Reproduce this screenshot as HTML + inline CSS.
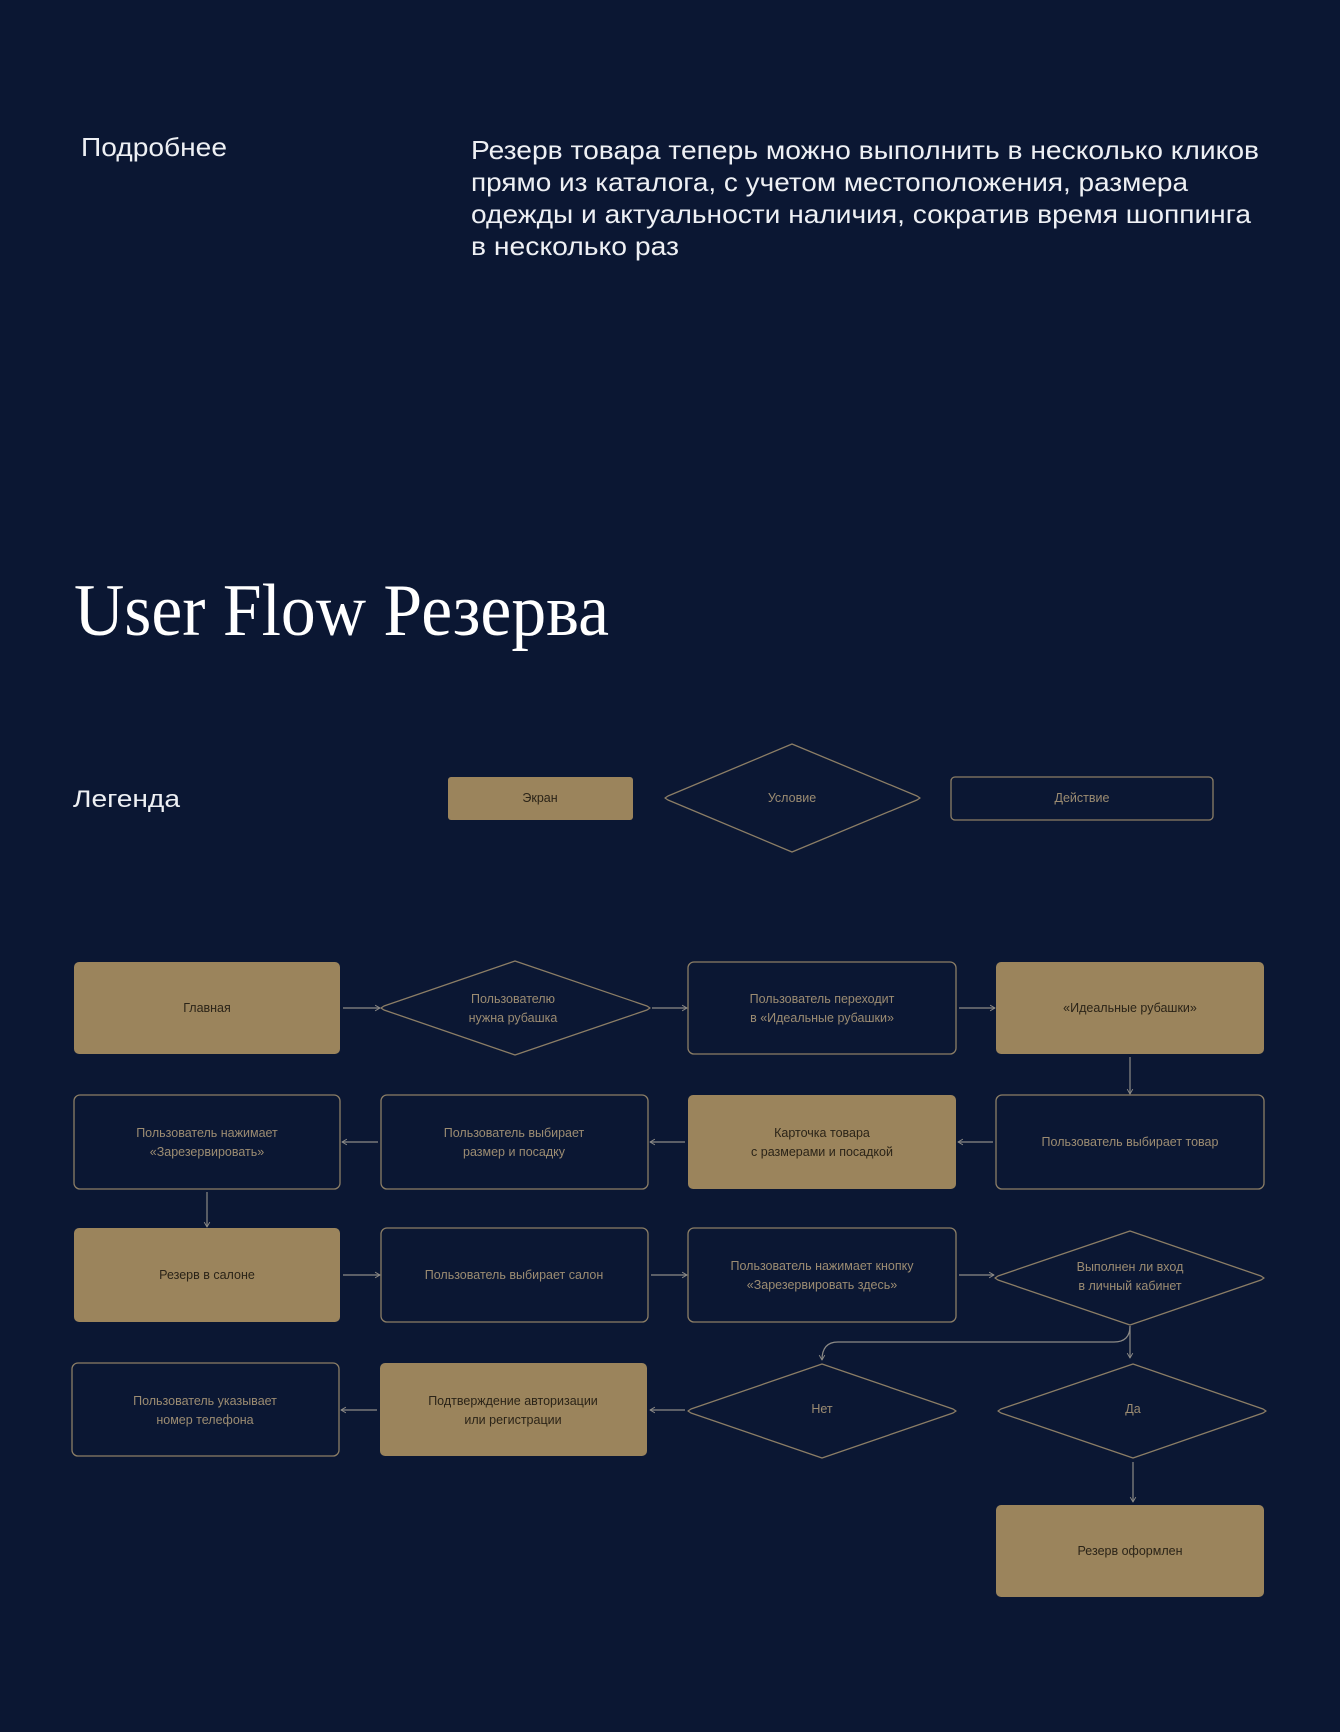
<!DOCTYPE html>
<html><head><meta charset="utf-8"><style>
html,body{margin:0;padding:0;background:#0b1733;}
svg{display:block}
.t{font-family:"Liberation Sans",sans-serif}
</style></head><body>
<svg width="1340" height="1732" viewBox="0 0 1340 1732" xmlns="http://www.w3.org/2000/svg">
<defs>
<marker id="a" viewBox="0 0 10 10" refX="9" refY="5" markerWidth="7" markerHeight="7" orient="auto-start-reverse" markerUnits="userSpaceOnUse">
<path d="M2,1 L9,5 L2,9" fill="none" stroke="#8c8a86" stroke-width="1.3"/>
</marker>
</defs>
<rect width="1340" height="1732" fill="#0b1733"/>
<g class="t" fill="#eef0f4">
<text x="81" y="156" font-size="26" textLength="146" lengthAdjust="spacingAndGlyphs">Подробнее</text>
<text font-size="26" x="471">
<tspan x="471" y="159" textLength="788" lengthAdjust="spacingAndGlyphs">Резерв товара теперь можно выполнить в несколько кликов</tspan>
<tspan x="471" y="191" textLength="717" lengthAdjust="spacingAndGlyphs">прямо из каталога, с учетом местоположения, размера</tspan>
<tspan x="471" y="223" textLength="780" lengthAdjust="spacingAndGlyphs">одежды и актуальности наличия, сократив время шоппинга</tspan>
<tspan x="471" y="255" textLength="208" lengthAdjust="spacingAndGlyphs">в несколько раз</tspan>
</text>
<text x="73" y="807" font-size="24" textLength="107" lengthAdjust="spacingAndGlyphs">Легенда</text>
</g>
<text x="74" y="635" font-family="'Liberation Serif',serif" font-size="74" fill="#ffffff" textLength="535" lengthAdjust="spacingAndGlyphs">User Flow Резерва</text>

<g fill="none" stroke="#8c7e66" stroke-width="1.3" stroke-linejoin="round">
<rect x="448" y="777" width="185" height="43" rx="3" fill="#9b845c" stroke="none"/>
<polygon points="792,744 917,796 920,798 917,800 792,852 668,800 665,798 668,796"/>
<rect x="951" y="777" width="262" height="43" rx="4"/>
<rect x="74" y="962" width="266" height="92" rx="5" fill="#9b845c" stroke="none"/>
<polygon points="515,961 647,1006 650,1008 647,1010 515,1055 384,1010 381,1008 384,1006"/>
<rect x="688" y="962" width="268" height="92" rx="6"/>
<rect x="996" y="962" width="268" height="92" rx="5" fill="#9b845c" stroke="none"/>
<rect x="74" y="1095" width="266" height="94" rx="6"/>
<rect x="381" y="1095" width="267" height="94" rx="6"/>
<rect x="688" y="1095" width="268" height="94" rx="5" fill="#9b845c" stroke="none"/>
<rect x="996" y="1095" width="268" height="94" rx="6"/>
<rect x="74" y="1228" width="266" height="94" rx="5" fill="#9b845c" stroke="none"/>
<rect x="381" y="1228" width="267" height="94" rx="6"/>
<rect x="688" y="1228" width="268" height="94" rx="6"/>
<polygon points="1130,1231 1261,1276 1264,1278 1261,1280 1130,1325 998,1280 995,1278 998,1276"/>
<rect x="72" y="1363" width="267" height="93" rx="6"/>
<rect x="380" y="1363" width="267" height="93" rx="5" fill="#9b845c" stroke="none"/>
<polygon points="822,1364 953,1409 956,1411 953,1413 822,1458 691,1413 688,1411 691,1409"/>
<polygon points="1133,1364 1263,1409 1266,1411 1263,1413 1133,1458 1001,1413 998,1411 1001,1409"/>
<rect x="996" y="1505" width="268" height="92" rx="5" fill="#9b845c" stroke="none"/>
</g>

<g fill="none" stroke="#8c8a86" stroke-width="1.2" marker-end="url(#a)">
<line x1="343" y1="1008" x2="380" y2="1008"/>
<line x1="652" y1="1008" x2="687" y2="1008"/>
<line x1="959" y1="1008" x2="995" y2="1008"/>
<line x1="1130" y1="1057" x2="1130" y2="1094"/>
<line x1="993" y1="1142" x2="958" y2="1142"/>
<line x1="685" y1="1142" x2="650" y2="1142"/>
<line x1="378" y1="1142" x2="342" y2="1142"/>
<line x1="207" y1="1192" x2="207" y2="1227"/>
<line x1="343" y1="1275" x2="380" y2="1275"/>
<line x1="651" y1="1275" x2="687" y2="1275"/>
<line x1="959" y1="1275" x2="994" y2="1275"/>
<line x1="1130" y1="1326" x2="1130" y2="1358"/>
<path d="M1130,1326 Q1130,1342 1114,1342 L838,1342 Q822,1342 822,1360"/>
<line x1="685" y1="1410" x2="650" y2="1410"/>
<line x1="377" y1="1410" x2="341" y2="1410"/>
<line x1="1133" y1="1462" x2="1133" y2="1502"/>
</g>

<g class="t" font-size="12.5" text-anchor="middle">
<g fill="#2b2418">
<text x="540" y="802">Экран</text>
<text x="207" y="1012">Главная</text>
<text x="1130" y="1012">«Идеальные рубашки»</text>
<text x="822" y="1137">Карточка товара</text>
<text x="822" y="1156">с размерами и посадкой</text>
<text x="207" y="1279">Резерв в салоне</text>
<text x="513" y="1405">Подтверждение авторизации</text>
<text x="513" y="1424">или регистрации</text>
<text x="1130" y="1555">Резерв оформлен</text>
</g>
<g fill="#9c8c72">
<text x="792" y="802">Условие</text>
<text x="1082" y="802">Действие</text>
<text x="513" y="1003">Пользователю</text>
<text x="513" y="1022">нужна рубашка</text>
<text x="822" y="1003">Пользователь переходит</text>
<text x="822" y="1022">в  «Идеальные рубашки»</text>
<text x="207" y="1137">Пользователь нажимает</text>
<text x="207" y="1156">«Зарезервировать»</text>
<text x="514" y="1137">Пользователь выбирает</text>
<text x="514" y="1156">размер и посадку</text>
<text x="1130" y="1146">Пользователь выбирает товар</text>
<text x="514" y="1279">Пользователь выбирает салон</text>
<text x="822" y="1270">Пользователь нажимает кнопку</text>
<text x="822" y="1289">«Зарезервировать здесь»</text>
<text x="1130" y="1271">Выполнен ли вход</text>
<text x="1130" y="1290">в личный кабинет</text>
<text x="205" y="1405">Пользователь указывает</text>
<text x="205" y="1424">номер телефона</text>
<text x="822" y="1413">Нет</text>
<text x="1133" y="1413">Да</text>
</g>
</g>
</svg>
</body></html>
